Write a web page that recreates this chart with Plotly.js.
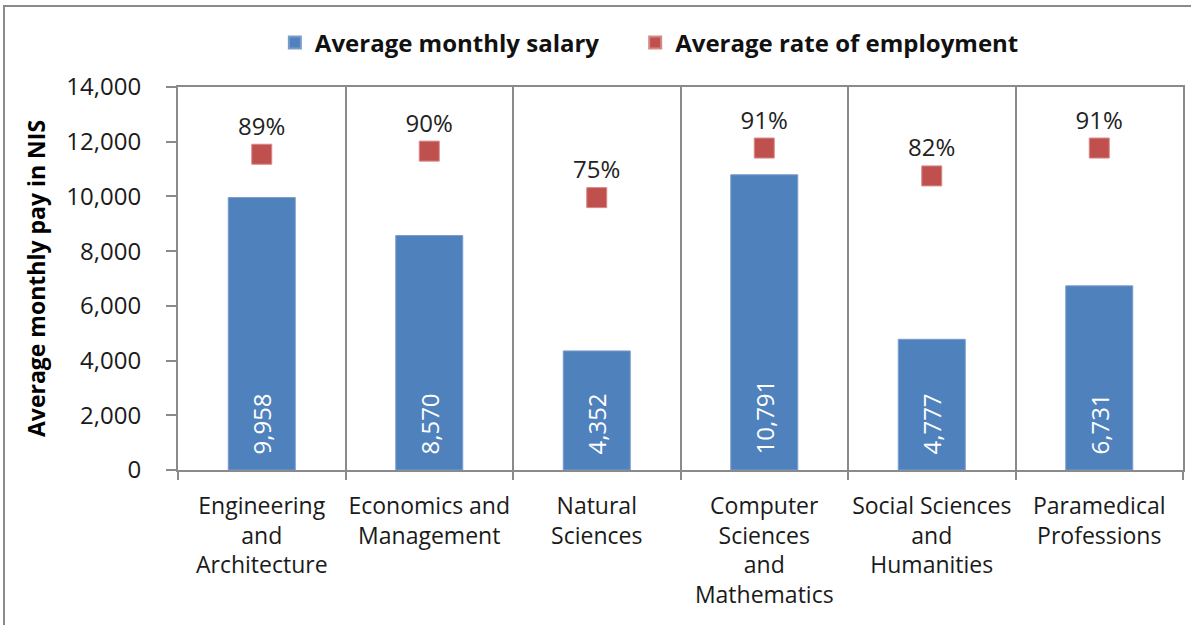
<!DOCTYPE html>
<html>
<head>
<meta charset="utf-8">
<script src="https://cdn.plot.ly/plotly-3.0.1.min.js"></script>
<style>
  html, body { margin: 0; padding: 0; background: #fff; }
  #chart { width: 1191px; height: 625px; position: absolute; left: 0; top: 0; }
  #frame { position: absolute; left: 3px; top: 5px; width: 1200px; height: 640px;
           border-top: 2px solid #8a8a8a; border-left: 2px solid #8a8a8a; pointer-events: none; }
</style>
</head>
<body>
<div id="chart"></div>
<div id="frame"></div>
<script>
const categories = [
  "Engineering<br>and<br>Architecture",
  "Economics and<br>Management",
  "Natural<br>Sciences",
  "Computer<br>Sciences<br>and<br>Mathematics",
  "Social Sciences<br>and<br>Humanities",
  "Paramedical<br>Professions"
];
const salary = [9958, 8570, 4352, 10791, 4777, 6731];
const employmentRate = [89, 90, 75, 91, 82, 91];
const yTicks = [0, 2000, 4000, 6000, 8000, 10000, 12000, 14000];
const seriesNames = ["Average monthly salary", "Average rate of employment"];

const FONT = "Open Sans, Noto Sans, sans-serif";
const NB = "\u00a0";

const traces = [
  {
    type: "bar",
    name: seriesNames[0] + NB.repeat(5),
    x: categories,
    y: salary,
    marker: { color: "#4F81BD", line: { color: "#7A9CCB", width: 1 } },
    width: 0.4,
    texttemplate: NB + NB + "%{y:,}",
    textposition: "inside",
    insidetextanchor: "start",
    textangle: -90,
    textfont: { family: FONT, size: 24, color: "#ffffff" },
    hoverinfo: "x+y"
  },
  {
    type: "scatter",
    mode: "markers+text",
    name: seriesNames[1],
    x: categories,
    y: employmentRate,
    yaxis: "y2",
    marker: { symbol: "square", size: 20, color: "#C0504D", line: { color: "#D58A88", width: 1 } },
    texttemplate: "%{y}%",
    textposition: "top center",
    textfont: { family: FONT, size: 24, color: "#222222" },
    cliponaxis: false
  }
];

const layout = {
  width: 1191,
  height: 625,
  margin: { l: 178, r: 8, t: 87, b: 155 },
  paper_bgcolor: "#ffffff",
  plot_bgcolor: "#ffffff",
  font: { family: FONT, color: "#1a1a1a" },
  showlegend: true,
  legend: {
    orientation: "h",
    x: 0.469, xanchor: "center",
    y: 1.115, yanchor: "middle",
    yref: "paper",
    font: { family: FONT, size: 24, color: "#111111", weight: "bold" },
    itemsizing: "constant",
    traceorder: "normal",
    itemwidth: 30
  },
  bargap: 0.6,
  xaxis: {
    type: "category",
    showline: true,
    linecolor: "#8a8a8a",
    linewidth: 2,
    mirror: true,
    showgrid: true,
    gridcolor: "#8a8a8a",
    gridwidth: 2,
    tickson: "boundaries",
    ticks: "outside",
    ticklen: 8,
    tickcolor: "#8a8a8a",
    tickwidth: 2,
    tickangle: 0,
    tickfont: { family: FONT, size: 23, color: "#1a1a1a" },
    ticklabelstandoff: 14,
    automargin: false,
    fixedrange: true
  },
  yaxis: {
    range: [0, 14000],
    tickvals: yTicks,
    tickformat: ",d",
    showgrid: false,
    zeroline: false,
    showline: true,
    linecolor: "#8a8a8a",
    linewidth: 2,
    mirror: true,
    ticks: "outside",
    ticklen: 10,
    tickcolor: "#8a8a8a",
    tickwidth: 2,
    tickfont: { family: FONT, size: 24, color: "#1a1a1a" },
    ticklabelstandoff: 20,
    title: {
      text: "Average monthly pay in NIS",
      font: { family: FONT, size: 23, color: "#000000", weight: "bold" },
      standoff: 14
    },
    automargin: false,
    fixedrange: true
  },
  yaxis2: {
    overlaying: "y",
    side: "right",
    range: [-12.9, 110.7],
    visible: false,
    showgrid: false,
    zeroline: false,
    fixedrange: true
  }
};

Plotly.newPlot("chart", traces, layout, { displayModeBar: false, staticPlot: true });
</script>
</body>
</html>
